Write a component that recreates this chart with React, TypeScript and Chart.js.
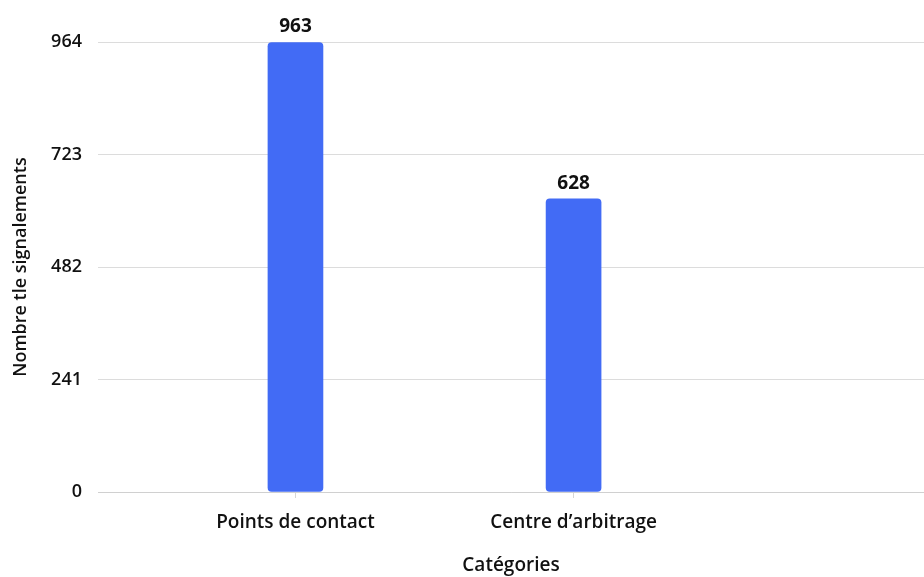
import React, { useEffect, useRef } from "react";
import { Chart, registerables } from "chart.js";

Chart.register(...registerables);

const categories = ["Points de contact", "Centre d\u2019arbitrage"];
const values = [963, 628];
const yTicks = [0, 241, 482, 723, 964];

const FONT = "'Open Sans', 'Noto Sans', sans-serif";

const valueLabels = {
  id: "valueLabels",
  afterDatasetsDraw(chart: any) {
    const ctx = chart.ctx;
    const meta = chart.getDatasetMeta(0);
    ctx.save();
    ctx.font = `700 19px ${FONT}`;
    ctx.fillStyle = "#111";
    ctx.textAlign = "center";
    ctx.textBaseline = "bottom";
    meta.data.forEach((bar: any, i: number) => {
      ctx.fillText(String(values[i]), bar.x, bar.y - 6);
    });
    ctx.restore();
  },
};

export default function App() {
  const ref = useRef<HTMLCanvasElement | null>(null);
  useEffect(() => {
    if (!ref.current) return;
    const chart = new Chart(ref.current, {
      type: "bar",
      data: {
        datasets: [
          {
            data: values.map((v, i) => ({ x: i, y: v })),
            backgroundColor: "#426bf5",
            borderRadius: 4,
            borderSkipped: false,
            barThickness: 55,
          } as any,
        ],
      },
      options: {
        animation: false,
        responsive: true,
        maintainAspectRatio: false,
        layout: { padding: { top: 42, left: 0, right: 0, bottom: 0 } },
        plugins: {
          legend: { display: false },
          tooltip: { enabled: false },
        },
        scales: {
          x: {
            type: "linear",
            offset: false,
            min: -0.71,
            max: 2.26,
            afterBuildTicks: (scale: any) => {
              scale.ticks = categories.map((_, i) => ({ value: i }));
            },
            afterFit: (scale: any) => {
              scale.height = 85;
            },
            ticks: {
              callback: (v: any) => categories[v as number] ?? "",
              font: { family: FONT, size: 19, weight: 600 as any },
              color: "#111",
              padding: 13,
              autoSkip: false,
              maxRotation: 0,
            },
            grid: {
              offset: false,
              drawOnChartArea: false,
              drawTicks: true,
              tickLength: 6,
              color: "#d6d6d6",
            },
            border: { display: true, color: "#d0d0d0" },
            title: {
              display: true,
              text: "Catégories",
              font: { family: FONT, size: 19, weight: 600 as any },
              color: "#111",
              padding: { top: 0, bottom: 0 },
            },
          },
          y: {
            min: 0,
            max: 964,
            afterBuildTicks: (scale: any) => {
              scale.ticks = yTicks.map((v) => ({ value: v }));
            },
            afterFit: (scale: any) => {
              scale.width = 98;
            },
            ticks: {
              font: { family: FONT, size: 18, weight: 600 as any },
              color: "#111",
              padding: 16,
            },
            grid: {
              color: "#dcdcdc",
              drawTicks: false,
            },
            border: { display: false },
            title: {
              display: true,
              text: "Nombre tle signalements",
              font: { family: FONT, size: 18, weight: 600 as any },
              color: "#111",
              padding: { top: 10, bottom: 0 },
            },
          },
        },
      },
      plugins: [valueLabels],
    });
    return () => chart.destroy();
  }, []);
  return (
    <div style={{ position: "fixed", left: 0, top: 0, width: 924, height: 577, background: "#fff" }}>
      <canvas ref={ref} />
    </div>
  );
}
